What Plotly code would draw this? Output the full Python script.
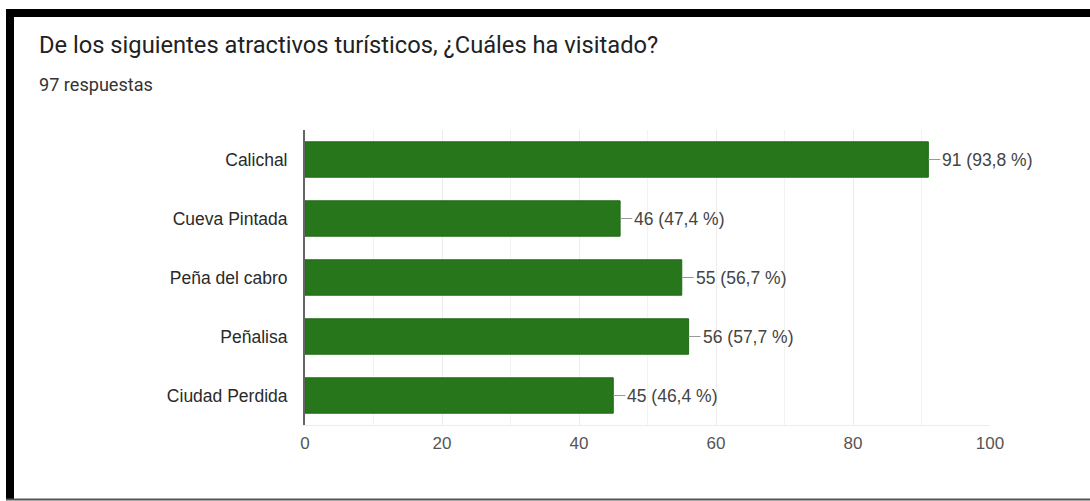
import plotly.graph_objects as go

categories = ["Calichal", "Cueva Pintada", "Peña del cabro", "Peñalisa", "Ciudad Perdida"]
counts = [91, 46, 55, 56, 45]
percents = ["93,8", "47,4", "56,7", "57,7", "46,4"]
x_ticks = [0, 20, 40, 60, 80, 100]
title_text = "De los siguientes atractivos turísticos, ¿Cuáles ha visitado?"
subtitle_text = "97 respuestas"

W, H = 1090, 501
L, R, T, B = 305, 100, 130, 76
pw, ph = W - L - R, H - T - B

def fx(px):
    return (px - L) / pw

def fy(py):
    return (H - B - py) / ph

BAR = "#28761c"
FONT = "Liberation Sans, Arial, sans-serif"
TFONT = "Roboto, Liberation Sans, sans-serif"

fig = go.Figure(go.Bar(
    x=counts, y=categories, orientation="h",
    marker=dict(color=BAR, line=dict(color="#1f6a15", width=1)),
    width=0.6, hoverinfo="skip",
))

annotations = []
for c, v, p in zip(categories, counts, percents):
    annotations.append(dict(
        x=v, y=c, xref="x", yref="y", text=f"{v} ({p} %)",
        showarrow=True, arrowhead=0, arrowwidth=1.2, arrowcolor="#999",
        ax=12, ay=0, xanchor="left", yanchor="middle",
        font=dict(family=FONT, size=17.5, color="#444"),
    ))

annotations.append(dict(
    x=fx(37), y=fy(45), xref="paper", yref="paper", text=title_text,
    showarrow=False, xanchor="left", yanchor="middle",
    font=dict(family=TFONT, size=23.7, color="#222"),
))
annotations.append(dict(
    x=fx(37), y=fy(85), xref="paper", yref="paper", text=subtitle_text,
    showarrow=False, xanchor="left", yanchor="middle",
    font=dict(family=TFONT, size=18.1, color="#333"),
))

shapes = [
    dict(type="rect", xref="paper", yref="paper", x0=fx(6), x1=fx(1092), y0=fy(17), y1=fy(9),
         fillcolor="black", line=dict(width=0), layer="above"),
    dict(type="rect", xref="paper", yref="paper", x0=fx(6), x1=fx(14), y0=fy(500), y1=fy(9),
         fillcolor="black", line=dict(width=0), layer="above"),
    dict(type="rect", xref="paper", yref="paper", x0=fx(6), x1=fx(1092), y0=fy(500.5), y1=fy(498.5),
         fillcolor="#555", line=dict(width=0), layer="above"),
]

fig.update_layout(
    width=W, height=H,
    margin=dict(l=L, r=R, t=T, b=B, pad=0),
    paper_bgcolor="white", plot_bgcolor="white",
    showlegend=False, bargap=0.4,
    annotations=annotations, shapes=shapes,
    font=dict(family=FONT),
)
fig.update_xaxes(
    range=[0, 100], tickvals=x_ticks, ticktext=[str(t) for t in x_ticks],
    showgrid=True, gridcolor="#ececec", gridwidth=1,
    minor=dict(dtick=10, showgrid=True, gridcolor="#f2f2f2"),
    zeroline=False, showline=True, linecolor="#ececec", linewidth=1,
    ticks="", ticklabelstandoff=3,
    tickfont=dict(family=FONT, size=17, color="#555"), fixedrange=True,
)
fig.update_yaxes(
    autorange="reversed", showgrid=False, zeroline=False,
    showline=True, linecolor="#666", linewidth=2,
    ticks="", ticklabelstandoff=12,
    tickfont=dict(family=FONT, size=17.5, color="#2a2a2a"), fixedrange=True,
)

fig.write_html(
    "out.html",
    config={"displayModeBar": False},
    post_script="document.body.style.margin='0';document.body.style.overflow='hidden';",
)
